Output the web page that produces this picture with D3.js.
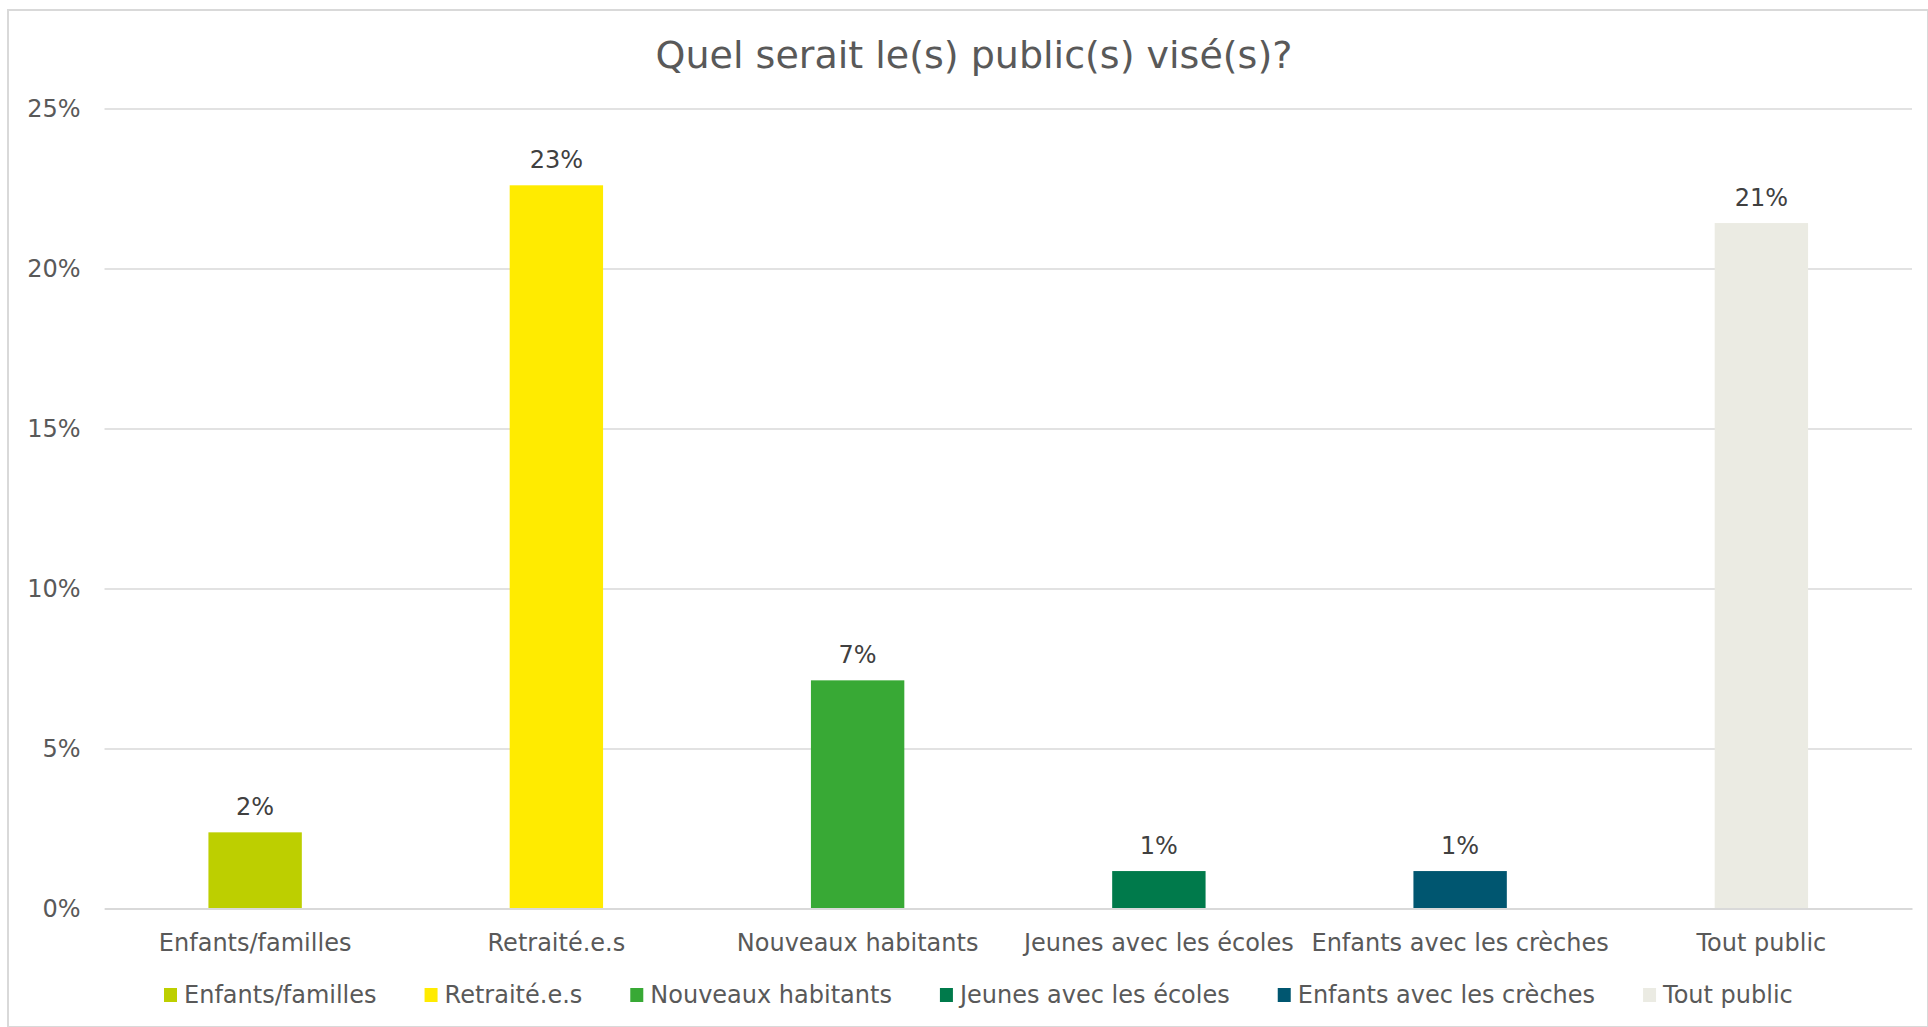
<!DOCTYPE html>
<html>
<head>
<meta charset="utf-8">
<script src="https://cdn.jsdelivr.net/npm/d3@7"></script>
<style>
  body { margin: 0; background: #fff; }
  text { font-family: Verdana, "DejaVu Sans", sans-serif; }
</style>
</head>
<body>
<svg id="chart"></svg>
<script>
const categories = ['Enfants/familles', 'Retraité.e.s', 'Nouveaux habitants', 'Jeunes avec les écoles', 'Enfants avec les crèches', 'Tout public'];
const values = [2.38, 22.6, 7.13, 1.17, 1.17, 21.42];
const labels = ['2%', '23%', '7%', '1%', '1%', '21%'];
const colors = ['#BDCF00', '#FFEB00', '#38A935', '#007A4B', '#005670', '#EBEBE3'];
const yTicks = [0, 5, 10, 15, 20, 25];

const W = 1928, H = 1027;
const margin = {top: 108.5, bottom: 118.5, left: 104.5, right: 16};
const width = W - margin.left - margin.right;
const height = H - margin.top - margin.bottom;

const root = d3.select('#chart')
.attr('width', W)
.attr('height', H);

// outer chart border
root.append('rect')
.attr('x', 8).attr('y', 10)
.attr('width', W - 8).attr('height', H - 10)
.attr('fill', 'none')
.attr('stroke', '#D9D9D9')
.attr('stroke-width', 2);

root.append('text')
.attr('x', 974)
.attr('y', 55)
.attr('dy', '0.35em')
.attr('text-anchor', 'middle')
.style('font-size', '38px')
.style('fill', '#595959')
.text('Quel serait le(s) public(s) visé(s)?');

const svg = root.append('g')
.attr('transform', `translate(${margin.left}, ${margin.top})`);

const x = d3.scaleBand()
.domain(categories)
.range([0, width])
.paddingInner(0.69)
.paddingOuter(0.345);

const y = d3.scaleLinear()
.domain([0, 25])
.range([height, 0]);

// gridlines + y labels
const yAxis = svg.append('g')
.call(d3.axisLeft(y).tickValues(yTicks).tickSize(-width).tickPadding(24).tickFormat(d => d + '%'));
yAxis.select('.domain').remove();
yAxis.selectAll('.tick line').attr('stroke', '#D9D9D9').attr('stroke-width', 1.5);
yAxis.selectAll('.tick text')
.style('font-size', '24px')
.style('fill', '#595959')
.style('font-family', 'Verdana, "DejaVu Sans", sans-serif');

svg.selectAll('rect.bar')
.data(categories)
.enter()
.append('rect')
.attr('class', 'bar')
.attr('x', d => x(d))
.attr('y', (d, i) => y(values[i]))
.attr('width', x.bandwidth())
.attr('height', (d, i) => height - y(values[i]))
.attr('fill', (d, i) => colors[i]);

svg.selectAll('text.val')
.data(categories)
.enter()
.append('text')
.attr('class', 'val')
.attr('x', d => x(d) + x.bandwidth() / 2)
.attr('y', (d, i) => y(values[i]) - 17)
.attr('text-anchor', 'middle')
.style('font-size', '24px')
.style('fill', '#404040')
.text((d, i) => labels[i]);

const xAxis = svg.append('g')
.attr('transform', `translate(0, ${height})`)
.call(d3.axisBottom(x).tickSize(0).tickPadding(25));
xAxis.select('.domain').attr('stroke', '#D9D9D9').attr('stroke-width', 2);
xAxis.selectAll('.tick text')
.style('font-size', '24px')
.style('fill', '#595959')
.style('font-family', 'Verdana, "DejaVu Sans", sans-serif');

// legend, laid out left to right
const legend = root.append('g').attr('transform', 'translate(164, 995)');
let lx = 0;
categories.forEach((c, i) => {
  const g = legend.append('g').attr('transform', `translate(${lx}, 0)`);
  g.append('rect')
  .attr('x', 0).attr('y', -7)
  .attr('width', 13).attr('height', 14)
  .attr('fill', colors[i]);
  const t = g.append('text')
  .attr('x', 20).attr('y', 0)
  .attr('dy', '0.35em')
  .style('font-size', '24px')
  .style('fill', '#595959')
  .text(c);
  lx += 20 + t.node().getComputedTextLength() + 48;
});
</script>
</body>
</html>
